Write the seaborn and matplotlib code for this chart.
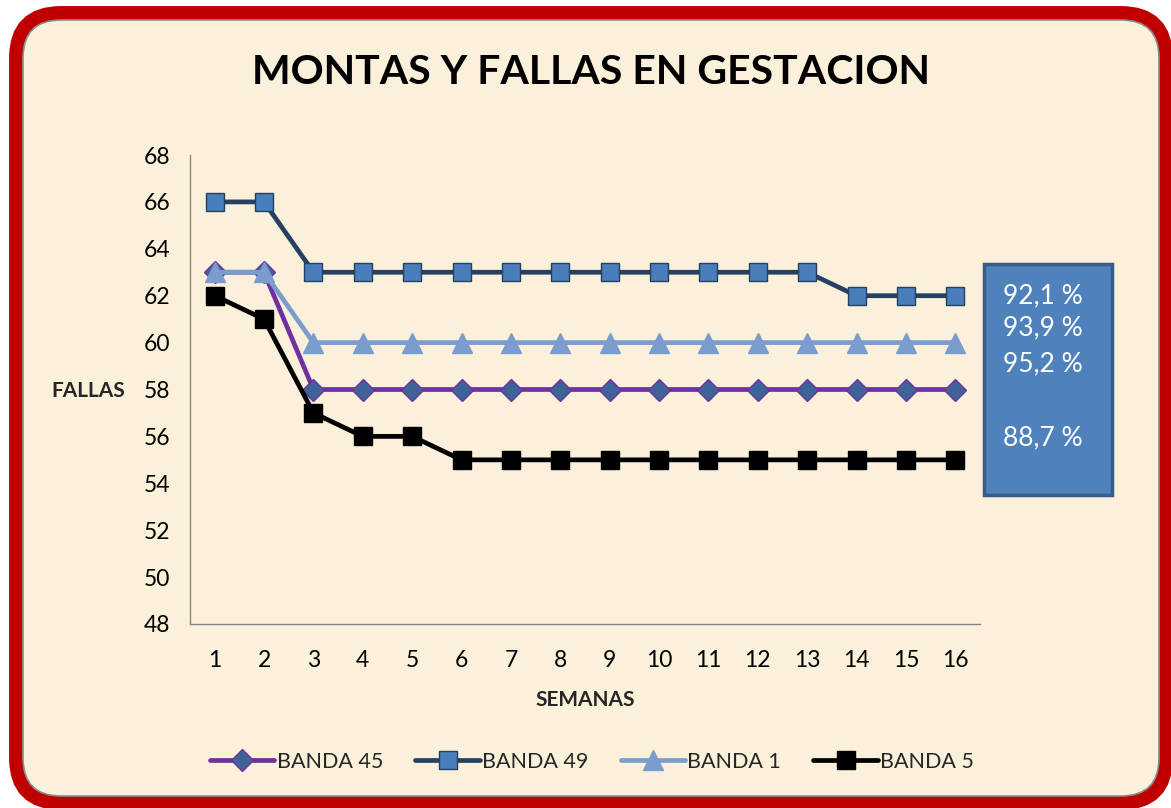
import numpy as np
import pandas as pd
import seaborn as sns
import matplotlib.pyplot as plt
from matplotlib.patches import FancyBboxPatch, Rectangle

# data
semanas = list(range(1, 17))
banda_45 = [63, 63, 58, 58, 58, 58, 58, 58, 58, 58, 58, 58, 58, 58, 58, 58]
banda_49 = [66, 66, 63, 63, 63, 63, 63, 63, 63, 63, 63, 63, 63, 62, 62, 62]
banda_1 = [63, 63, 60, 60, 60, 60, 60, 60, 60, 60, 60, 60, 60, 60, 60, 60]
banda_5 = [62, 61, 57, 56, 56, 55, 55, 55, 55, 55, 55, 55, 55, 55, 55, 55]
porcentajes = ["92,1 %", "93,9 %", "95,2 %", "", "88,7 %"]

sns.set_theme(style="white")
plt.rcParams['font.family'] = ['Lato', 'DejaVu Sans']

fig = plt.figure(figsize=(11.71, 8.08), dpi=100)
fig.patch.set_facecolor("white")

# background frame (pixel coords)
bg = fig.add_axes([0, 0, 1, 1], zorder=0)
bg.set_xlim(0, 1171)
bg.set_ylim(808, 0)
bg.axis("off")
bg.add_patch(FancyBboxPatch((16, 13), 1150, 790, boxstyle="round,pad=0,rounding_size=45",
                            facecolor="#FBF0DA", edgecolor="#C00000", linewidth=10))
bg.add_patch(FancyBboxPatch((23, 20), 1136, 776, boxstyle="round,pad=0,rounding_size=38",
                            facecolor="none", edgecolor="#8C8C8C", linewidth=1.2))

bg.text(591, 72, "MONTAS Y FALLAS EN GESTACION", ha="center", va="center",
        fontsize=29.5, fontweight="bold", color="black")
bg.text(88, 391, "FALLAS", ha="center", va="center", fontsize=15, fontweight="bold")
bg.text(585, 700, "SEMANAS", ha="center", va="center", fontsize=15, fontweight="bold")

# percentage box
bg.add_patch(Rectangle((984, 264), 128, 231, facecolor="#4F81BD", edgecolor="#385D8A", linewidth=2.5))
for txt, y in zip(porcentajes, [296, 328, 364, 401, 438]):
    bg.text(1003, y, txt, ha="left", va="center", fontsize=19, color="white")

ax = fig.add_axes([190 / 1171, 1 - 624 / 808, 790 / 1171, 469 / 808], zorder=1)
ax.set_facecolor("none")

series = [
    ("BANDA 45", banda_45, dict(color="#7030A0", marker="D", markersize=11,
                                markerfacecolor="#3E6497", markeredgecolor="#7030A0")),
    ("BANDA 49", banda_49, dict(color="#254061", marker="s", markersize=13.5,
                                markerfacecolor="#4A7EBB", markeredgecolor="#254061")),
    ("BANDA 1", banda_1, dict(color="#7B9CCF", marker="^", markersize=14,
                              markerfacecolor="#7B9CCF", markeredgecolor="#7B9CCF")),
    ("BANDA 5", banda_5, dict(color="black", marker="s", markersize=13.5,
                              markerfacecolor="black", markeredgecolor="black")),
]
for name, vals, kw in series:
    df = pd.DataFrame({"semana": semanas, "fallas": vals})
    sns.lineplot(data=df, x="semana", y="fallas", ax=ax, label=name, linewidth=3.4,
                 markeredgewidth=1, **kw)

ax.set_xlim(0.5, 16.5)
ax.set_ylim(48, 68)
ax.set_xticks(semanas)
ax.set_yticks(range(48, 69, 2))
ax.tick_params(axis="both", length=0, labelsize=16.5, colors="black")
ax.tick_params(axis="y", pad=14)
ax.tick_params(axis="x", pad=19)
ax.set_xlabel("")
ax.set_ylabel("")
for side in ["top", "right"]:
    ax.spines[side].set_visible(False)
for side in ["left", "bottom"]:
    ax.spines[side].set_color("#868686")
    ax.spines[side].set_linewidth(1)

handles, labels = ax.get_legend_handles_labels()
ax.legend_.remove()
fig.legend(handles, labels, loc="center", bbox_to_anchor=(592 / 1171, 1 - 762 / 808), ncol=4,
           frameon=False, fontsize=15.5, handlelength=3, columnspacing=1.5, handletextpad=0.1)

fig.savefig("out.png", dpi=100)
